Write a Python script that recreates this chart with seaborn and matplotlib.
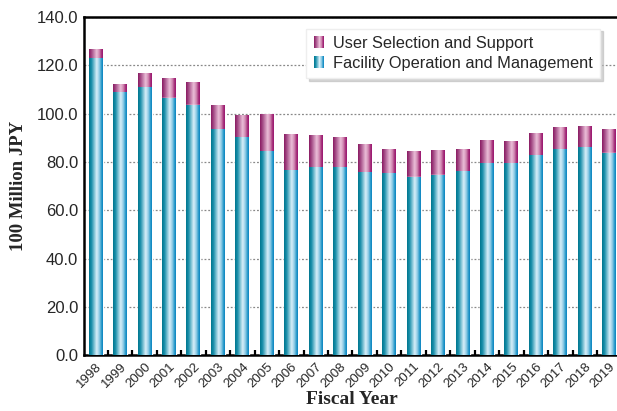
import numpy as np
import pandas as pd
import seaborn as sns
import matplotlib.pyplot as plt
from matplotlib.colors import LinearSegmentedColormap
from matplotlib.patches import Rectangle
from matplotlib.legend_handler import HandlerBase
from matplotlib.transforms import ScaledTranslation

# values (100 million JPY)
years = [str(y) for y in range(1998, 2020)]
facility = [122.6, 108.5, 110.6, 106.4, 103.5, 93.2, 90.0, 84.2, 76.2, 77.6, 77.6,
            75.4, 75.1, 73.7, 74.5, 75.8, 79.1, 79.1, 82.5, 84.9, 85.8, 83.6]
user = [4.1, 3.7, 5.8, 7.9, 9.5, 10.3, 9.0, 15.2, 15.3, 13.1, 12.3,
        11.6, 10.2, 10.4, 10.0, 9.5, 9.9, 9.5, 9.4, 9.1, 9.0, 9.6]

df = pd.DataFrame({"year": years, "facility": facility, "user": user})
df["total"] = df["facility"] + df["user"]

sns.set_style("white")
plt.rcParams["font.family"] = ["Liberation Sans", "DejaVu Sans"]

# cylinder-like shading
teal = LinearSegmentedColormap.from_list("teal", [
    (0.0, "#00768f"), (0.18, "#1b90ab"), (0.55, "#d8eff9"),
    (0.75, "#8fcbe5"), (0.9, "#2b9ccb"), (1.0, "#0b82c0")])
plum = LinearSegmentedColormap.from_list("plum", [
    (0.0, "#8a1a62"), (0.18, "#a34a85"), (0.55, "#ebbfd8"),
    (0.75, "#cf86b0"), (0.9, "#a6307a"), (1.0, "#9a1570")])
grad = np.linspace(0, 1, 64).reshape(1, -1)

fig = plt.figure(figsize=(6.17, 4.11), dpi=100)
ax = fig.add_axes([0.136, 0.136, 0.869, 0.8226])

sns.barplot(data=df, x="year", y="total", color="#b0407f", width=0.57, ax=ax,
            saturation=1, zorder=2)
sns.barplot(data=df, x="year", y="facility", color="#2b9ccb", width=0.57, ax=ax,
            saturation=1, zorder=3)

n = len(years)
for i, p in enumerate(ax.patches):
    cmap = plum if i < n else teal
    x0, y0 = p.get_x(), p.get_y()
    ax.imshow(grad, cmap=cmap, aspect="auto", interpolation="bilinear",
              extent=[x0, x0 + p.get_width(), y0, y0 + p.get_height()],
              zorder=p.get_zorder() + 0.1)

ax.set_xlim(-0.478, 21.44)
ax.set_ylim(0, 140)
ax.set_yticks(np.arange(0, 141, 20))
ax.set_yticklabels([f"{v:.1f}" for v in np.arange(0, 141, 20)], fontsize=12)
ax.set_xticks(range(n))
ax.set_xticklabels(years, rotation=45, ha="right", rotation_mode="anchor", fontsize=9.5)
shift = ScaledTranslation(-5 / 100, -1 / 100, fig.dpi_scale_trans)
for lab in ax.get_xticklabels():
    lab.set_transform(lab.get_transform() + shift)
ax.tick_params(axis="x", which="major", length=0, pad=4)
ax.tick_params(axis="y", direction="in", length=5, width=1.5, pad=4)

ax.grid(axis="y", linestyle=(0, (1.5, 1.5)), color="#888888", linewidth=0.9, zorder=0)
ax.set_axisbelow(True)
for s in ax.spines.values():
    s.set_linewidth(1.8)
    s.set_color("black")

# small inward ticks between the bars
ax.vlines(np.arange(0.5, n - 1, 1), 0, 2.2, color="black", linewidth=1.6,
          zorder=5, clip_on=False)

ax.set_xlabel("Fiscal Year", fontsize=14, fontweight="bold",
              family=["Liberation Serif"])
ax.xaxis.set_label_coords(0.5, -0.105)
ax.set_ylabel("100 Million JPY", fontsize=13.5, fontweight="bold",
              family=["Liberation Serif"], labelpad=7)


class GradHandler(HandlerBase):
    def __init__(self, cmap):
        super().__init__()
        self.cmap = cmap

    def create_artists(self, legend, orig, xd, yd, width, height, fontsize, trans):
        w = height * 0.8
        x = xd + width - w - 2
        k = 10
        arts = []
        for j in range(k):
            arts.append(Rectangle((x + j * w / k, yd), w / k + 0.05, height,
                                  facecolor=self.cmap((j + 0.5) / k), edgecolor="none",
                                  transform=trans))
        return arts


h_user = Rectangle((0, 0), 1, 1)
h_fac = Rectangle((0, 0), 1, 1)
leg = ax.legend([h_user, h_fac],
                ["User Selection and Support", "Facility Operation and Management"],
                handler_map={h_user: GradHandler(plum), h_fac: GradHandler(teal)},
                loc="upper right", bbox_to_anchor=(0.978, 0.99), fontsize=11.8,
                frameon=True, fancybox=False, shadow={"color": "#bbbbbb", "alpha": 0.6},
                edgecolor="#eeeeee", framealpha=1, handlelength=0.8, handletextpad=0.4,
                labelspacing=0.28, borderpad=0.45)
leg.set_zorder(10)

fig.savefig("out.png", dpi=100)
